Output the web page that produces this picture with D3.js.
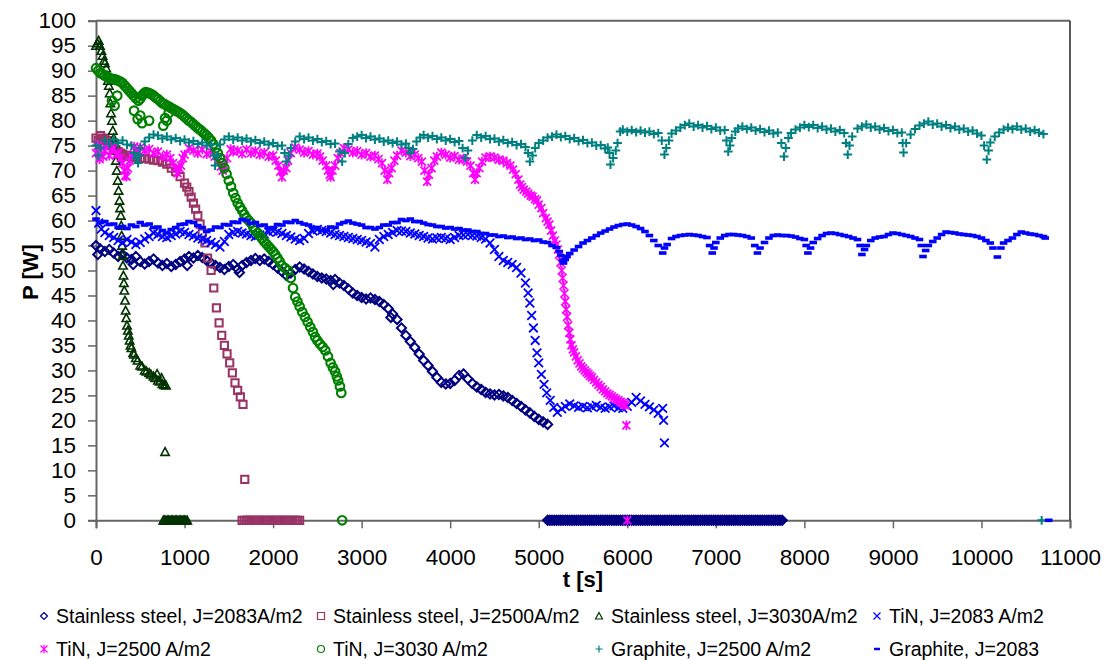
<!DOCTYPE html>
<html><head><meta charset="utf-8">
<script src="https://cdn.jsdelivr.net/npm/d3@7"></script>
<style>body{margin:0;background:#fff;} text{font-family:Arial,"Liberation Sans",sans-serif;fill:#000;}</style>
</head><body><svg id="c" width="1112" height="660"></svg>
<script>
// ---------- tick labels ----------
const xTicks = [0,1000,2000,3000,4000,5000,6000,7000,8000,9000,10000,11000];
const yTicks = [0,5,10,15,20,25,30,35,40,45,50,55,60,65,70,75,80,85,90,95,100];
const seriesNames = ["Stainless steel, J=2083A/m2","Stainless steel, J=2500A/m2","Stainless steel, J=3030A/m2","TiN, J=2083 A/m2","TiN, J=2500 A/m2","TiN, J=3030 A/m2","Graphite, J=2500 A/m2","Graphite, J=2083"];

// ---------- data: [t (s), P (W)] ----------
const ssJ2083 = [[0,55],[50,54.3],[100,53.8],[150,54.2],[200,53.5],[250,52.8],[300,53.2],[350,52.5],[400,52.2],[450,52.8],[500,51.8],[550,51.3],[600,51.8],[650,52.3],[700,51.5],[750,51],[800,51.4],[850,50.8],[900,51.2],[950,51.8],[1000,52.3],[1050,52.8],[1100,52.5],[1150,53],[1200,52.6],[1250,52],[1300,51.5],[1350,51],[1400,50.6],[1450,50.2],[1500,50.8],[1550,51.2],[1600,50.3],[1650,51],[1700,51.6],[1750,52],[1800,52.4],[1850,52],[1900,52.3],[1950,51.8],[2000,51.2],[2050,50.5],[2100,49.8],[2150,49],[2200,49.5],[2250,50.2],[2300,50.7],[2350,50.3],[2400,49.8],[2450,49.3],[2500,48.8],[2550,48.5],[2600,48.3],[2650,48],[2700,48.2],[2750,47.5],[2800,47],[2850,46.3],[2900,45.5],[2950,45],[3000,44.6],[3050,44.3],[3100,44.5],[3150,44.2],[3200,43.8],[3250,43.2],[3300,42.4],[3350,41.3],[3400,40.2],[3450,38.5],[3500,37],[3550,35.8],[3600,34.6],[3650,33.3],[3700,32],[3750,31],[3800,29.8],[3850,28.6],[3900,27.6],[3950,27.3],[4000,27.4],[4050,28],[4100,29],[4150,29.3],[4200,28.3],[4250,27.4],[4300,26.7],[4350,26.2],[4400,25.6],[4450,25.3],[4500,25.1],[4550,25.2],[4600,24.9],[4650,24.6],[4700,24],[4750,23.4],[4800,22.8],[4850,22.1],[4900,21.5],[4950,20.8],[5000,20.2],[5050,19.7],[5100,19.2],[20,53.2],[420,51.2],[1030,51],[1620,49.6],[2680,47.2],[3330,40.6]];
const ssJ2083ZeroTimes = [5100,5125,5150,5175,5200,5225,5250,5275,5300,5325,5350,5375,5400,5425,5450,5475,5500,5525,5550,5575,5600,5625,5650,5675,5700,5725,5750,5775,5800,5825,5850,5875,5900,5925,5950,5975,6000,6025,6050,6075,6100,6125,6150,6175,6200,6225,6250,6275,6300,6325,6350,6375,6400,6425,6450,6475,6500,6525,6550,6575,6600,6625,6650,6675,6700,6725,6750,6775,6800,6825,6850,6875,6900,6925,6950,6975,7000,7025,7050,7075,7100,7125,7150,7175,7200,7225,7250,7275,7300,7325,7350,7375,7400,7425,7450,7475,7500,7525,7550,7575,7600,7625,7650,7675,7700,7725,7750];

const ssJ2500 = [[0,76.5],[25,76],[50,77],[75,76.2],[100,76.5],[125,76],[150,75.5],[175,75],[200,74.5],[225,74.2],[250,73.8],[275,73.5],[300,73.3],[325,73.1],[350,73],[375,72.9],[400,72.8],[450,72.6],[500,72.5],[550,72.4],[600,72.3],[650,72.1],[700,72],[750,71.7],[800,71.3],[850,70.5],[900,69.8],[950,68.8],[1000,67.5],[1025,66.7],[1050,65.8],[1075,64.7],[1100,63.5],[1125,62.3],[1150,61],[1175,59.3],[1200,57.5],[1230,55.5],[1260,52.5],[1300,50],[1330,46.5],[1360,42.5],[1390,39.5],[1420,37],[1450,35],[1480,33.3],[1510,31.5],[1540,29.5],[1570,27.5],[1600,26],[1630,24.7],[1660,23.2],[1680,8.2]];
const ssJ2500ZeroTimes = [1650,1675,1700,1725,1750,1775,1800,1825,1850,1875,1900,1925,1950,1975,2000,2025,2050,2075,2100,2125,2150,2175,2200,2225,2250,2275,2300];

const ssJ3030 = [[0,95],[15,95.5],[30,96],[45,95],[60,94],[75,93],[90,92],[100,91.5],[115,90.5],[125,89],[135,88],[145,87],[155,85.5],[162,83.5],[170,81.5],[180,80],[190,78],[200,76.5],[210,75.5],[218,74],[225,72],[235,70],[245,68],[255,66],[265,64],[272,62.5],[280,61],[285,59],[290,57],[295,55],[300,53],[305,51],[310,49],[315,47.5],[320,46],[328,44],[335,42],[342,40.5],[350,39],[360,38],[370,37],[380,36],[390,35],[400,34.5],[420,33.5],[430,33.2],[450,32.5],[470,32],[500,31],[520,30.8],[550,30],[570,29.8],[600,29.5],[620,29.2],[650,28.8],[670,28.5],[690,29.3],[700,28],[720,27.8],[740,28.5],[750,27.3],[770,27.1],[790,27],[780,13.7]];
const ssJ3030ZeroTimes = [760,775,790,805,820,835,850,865,880,895,910,925,940,955,970,985,1000,1015,1030];

const tinJ2083 = [[0,62],[30,59.5],[60,58.3],[100,57.6],[150,57],[200,56.6],[250,56],[300,55.6],[350,56.2],[400,55.7],[450,55.2],[500,55.6],[550,56.3],[600,56.8],[650,57.5],[700,57.2],[750,56.8],[800,56.6],[850,57],[900,57.3],[950,57.8],[1000,57.6],[1050,57.2],[1100,56.9],[1150,56.5],[1200,56.3],[1250,56],[1300,55.6],[1350,55.2],[1400,54.7],[1450,55.8],[1500,57.2],[1550,57.6],[1600,57.8],[1650,57.5],[1700,57.3],[1750,57],[1800,56.8],[1850,57.1],[1900,57.3],[1950,57.7],[2000,57.9],[2050,57.7],[2100,57.4],[2150,57],[2200,56.7],[2250,56.3],[2300,56],[2350,56.4],[2400,57.4],[2450,57.9],[2500,58.2],[2550,58],[2600,57.8],[2650,57.5],[2700,57.2],[2750,57],[2800,56.8],[2850,56.6],[2900,56.4],[2950,56.2],[3000,56],[3050,55.7],[3100,55.4],[3150,54.7],[3200,56.2],[3250,56.8],[3300,57.2],[3350,57.6],[3400,58],[3450,57.9],[3500,57.8],[3550,57.5],[3600,57.3],[3650,57],[3700,56.8],[3750,56.5],[3800,56.3],[3850,56.5],[3900,56.6],[3950,56.4],[4000,56.2],[4050,56.6],[4100,57],[4150,57.1],[4200,57.2],[4250,57],[4300,56.9],[4350,56.6],[4400,56.3],[4450,55.5],[4500,54.2],[4550,52.8],[4600,52],[4650,51.6],[4700,51.2],[4750,50.6],[4800,49.5],[4850,47.5],[4880,45.5],[4900,43.5],[4920,41],[4940,38.5],[4960,36],[4980,33.5],[5000,31.5],[5030,29.2],[5060,27.2],[5090,25.5],[5130,24],[5170,22.6],[5210,21.6],[5260,22.3],[5300,22.8],[5350,23.3],[5400,22.9],[5450,22.6],[5500,22.8],[5550,22.5],[5600,22.7],[5650,23],[5700,22.6],[5750,22.4],[5800,22.7],[5850,22.9],[5900,22.5],[5950,22.4],[6000,22.8],[6050,23.6],[6100,24.6],[6150,23.9],[6200,23.2],[6250,22.7],[6300,22.1],[6350,21.4],[6400,22.4],[6410,20],[6420,15.5]];

const tinJ2500 = [[0,73.5],[20,75],[40,72.3],[60,74.5],[80,72.8],[100,74],[130,75],[150,73],[180,74],[200,74.5],[230,73.2],[250,73.5],[280,72.5],[300,71.5],[320,70],[330,69],[345,68.8],[360,70.5],[380,72],[400,73],[430,74.8],[450,74.2],[480,73.6],[500,74.6],[550,74],[600,74.3],[650,73.5],[700,73.8],[750,72.8],[800,73.2],[840,72.5],[870,71.5],[900,70.5],[920,69.5],[940,70.5],[960,71],[980,72.5],[1000,73.2],[1050,74.5],[1100,74],[1150,73.5],[1200,74.2],[1250,73.3],[1300,73.8],[1340,72.8],[1380,71.8],[1410,70.8],[1430,70],[1450,71],[1480,72.5],[1520,74.3],[1550,73.8],[1600,74],[1650,73.4],[1700,74.2],[1750,73.5],[1800,73.9],[1850,73.2],[1900,73.6],[1950,72.8],[2000,73],[2030,72],[2060,71],[2080,69.8],[2100,68.7],[2120,70],[2150,70.5],[2170,72],[2200,73.5],[2250,74.6],[2300,74.2],[2350,73.6],[2400,73.9],[2450,73.2],[2500,73.4],[2530,72.8],[2560,72],[2600,71],[2620,70],[2640,69.2],[2650,68.7],[2670,70],[2700,71],[2730,72.5],[2760,73.5],[2800,74.5],[2850,74.2],[2900,73.6],[2950,73.9],[3000,73.2],[3050,73.5],[3100,72.8],[3150,73],[3190,72.3],[3230,71.5],[3260,70],[3290,68.2],[3310,69.5],[3340,70.5],[3370,72],[3400,73],[3450,74],[3500,73.6],[3550,72.9],[3600,73.2],[3640,72.5],[3680,71.8],[3710,70],[3740,67.8],[3760,69.2],[3790,70.5],[3820,72],[3850,72.8],[3900,73.6],[3950,73.2],[4000,72.6],[4050,72.9],[4100,72.2],[4150,72.4],[4190,71.8],[4230,71],[4260,69.5],[4280,68.2],[4300,69.5],[4330,70.5],[4360,71.8],[4400,72.6],[4450,72.8],[4500,72.6],[4550,72.2],[4600,72],[4640,71.5],[4680,71],[4710,70.2],[4740,69.3],[4770,68.2],[4790,67.2],[4810,66.7],[4830,66.2],[4860,65.8],[4880,65.4],[4910,65],[4930,64.8],[4960,64.3],[4980,64],[5000,63.2],[5030,62.5],[5050,61.5],[5080,60.5],[5100,59.8],[5120,59.2],[5140,58],[5160,57],[5180,56],[5200,55.2],[5215,54.2],[5230,53.2],[5245,51.6],[5260,50],[5270,48.5],[5280,47],[5290,45.4],[5300,43.8],[5310,42.2],[5320,40.7],[5332,39],[5345,37.5],[5357,36.2],[5370,35],[5385,34.2],[5400,33.6],[5420,32.8],[5440,32],[5460,31.4],[5480,30.8],[5500,30.4],[5520,30],[5540,29.6],[5560,29.3],[5580,28.9],[5600,28.6],[5625,28.1],[5650,27.6],[5675,27.1],[5700,26.7],[5725,26.2],[5750,25.8],[5775,25.4],[5800,25.1],[5825,24.8],[5850,24.5],[5875,24.2],[5900,24],[5925,23.7],[5950,23.5],[5965,23.2],[5980,23],[5990,19],[6000,0]];

const tinJ3030 = [[0,90.5],[25,90],[50,89.5],[75,89.3],[100,89],[125,88.8],[150,88.5],[175,88.4],[200,88.3],[225,88.2],[250,88],[275,87.8],[300,87.5],[325,87],[350,86.5],[375,86],[400,85.5],[425,85],[450,84.5],[480,84],[500,84.4],[520,85],[540,85.4],[560,85.7],[580,85.6],[600,85.5],[625,85.3],[650,85],[675,84.6],[700,84.3],[725,83.9],[750,83.5],[775,83.3],[800,83],[825,82.8],[850,82.5],[875,82.3],[900,82],[925,81.8],[950,81.5],[975,81.2],[1000,80.8],[1025,80.4],[1050,80],[1075,79.7],[1100,79.3],[1125,78.9],[1150,78.5],[1175,78.2],[1200,77.8],[1225,77.4],[1250,77],[1275,76.5],[1300,76],[1325,75.3],[1350,74.5],[1375,73.5],[1400,72.5],[1425,71.5],[1450,70.5],[1475,69.3],[1500,68],[1525,66.8],[1550,65.5],[1575,64.5],[1600,63.5],[1625,62.7],[1650,62],[1675,61.2],[1700,60.5],[1725,60],[1750,59.5],[1775,58.7],[1800,58],[1825,57.5],[1850,57],[1875,56.4],[1900,55.8],[1925,55.3],[1950,54.8],[1975,54.3],[2000,53.8],[2025,53.2],[2050,52.5],[2075,51.8],[2100,51],[2135,50.5],[2170,50],[2200,48.5],[2225,46.5],[2250,44.7],[2275,43.8],[2300,42.8],[2330,41.7],[2360,40.7],[2390,39.7],[2420,38.7],[2450,37.7],[2475,36.7],[2500,36],[2530,35.3],[2560,34.7],[2590,34],[2620,32.8],[2650,31.5],[2675,30.6],[2700,29.8],[2720,28.8],[2735,28],[2755,26.8],[2770,25.5],[2780,0],[470,80.3],[600,80],[760,79],[430,82],[500,81],[520,79.5],[780,80.5],[800,80],[820,81.5],[180,84],[210,83],[240,85]];

const grJ2500 = [[0,75],[25,73],[50,74.5],[100,76],[150,75.3],[200,76.2],[250,75.5],[300,76],[350,75.2],[400,75],[430,73.5],[450,72.5],[475,71.5],[490,73],[500,74.5],[550,75.8],[600,76.6],[650,77.2],[700,77],[750,76.4],[800,76.8],[850,76.2],[900,76.5],[950,75.9],[1000,76.2],[1050,75.6],[1100,75.9],[1150,75.3],[1200,75.6],[1250,75],[1300,75.2],[1330,73],[1345,71],[1370,73],[1400,75.2],[1450,76.2],[1500,76.8],[1550,76.2],[1600,76.6],[1650,76],[1700,76.4],[1750,75.8],[1800,76.1],[1850,75.5],[1900,75.8],[1950,75.2],[2000,75.5],[2050,74.9],[2100,75],[2130,73.5],[2150,71.8],[2180,73],[2200,74.5],[2250,75.8],[2300,76.8],[2350,76.3],[2400,76.6],[2450,76],[2500,76.3],[2550,75.7],[2600,75.9],[2650,75.3],[2700,75.4],[2750,73.8],[2780,71.8],[2810,73.5],[2850,75.3],[2900,76.5],[2950,76.8],[3000,77.1],[3050,76.5],[3100,76.8],[3150,76.2],[3200,76.4],[3250,75.8],[3300,76],[3350,75.5],[3400,75.8],[3450,75.2],[3500,75.4],[3530,74.5],[3550,73.5],[3580,74.3],[3620,75.8],[3660,76.6],[3700,77.1],[3750,76.6],[3800,76.9],[3850,76.3],[3900,76.6],[3950,76],[4000,76.3],[4050,75.7],[4100,75.9],[4140,74.5],[4170,72.5],[4200,74],[4250,76],[4300,77.1],[4350,76.6],[4400,76.9],[4450,76.3],[4500,76.4],[4550,75.8],[4600,76.1],[4650,75.5],[4700,75.7],[4750,75.1],[4800,75.3],[4850,74.7],[4880,73.5],[4900,71.8],[4930,73],[4960,74.5],[5000,75.5],[5050,76],[5100,76.6],[5150,76.8],[5200,77.2],[5250,76.7],[5300,76.9],[5350,76.3],[5400,76.5],[5450,75.9],[5500,76.1],[5550,75.5],[5600,75.6],[5650,75],[5700,75.1],[5750,74.4],[5780,74.6],[5800,73.5],[5810,71.2],[5840,72.5],[5870,74],[5890,75.5],[5920,77.8],[5950,78.2],[6000,77.8],[6050,78.1],[6100,77.7],[6150,78],[6200,77.6],[6250,77.8],[6300,77.3],[6350,77.5],[6390,76],[6420,73.2],[6440,74.5],[6470,76],[6500,77.4],[6550,78],[6600,78.6],[6650,79.1],[6700,79.4],[6750,78.8],[6800,79.1],[6850,78.6],[6900,78.9],[6950,78.3],[7000,78.6],[7050,78],[7100,78.1],[7120,76],[7140,73.8],[7160,75],[7180,76.5],[7220,77.8],[7250,78.4],[7300,78.8],[7350,78.3],[7400,78.6],[7450,78],[7500,78.3],[7550,77.7],[7600,78],[7650,77.4],[7700,77.6],[7740,75.5],[7770,72.8],[7790,74.5],[7820,76.5],[7850,77.5],[7900,78.2],[7950,78.6],[8000,79.1],[8050,78.7],[8100,79.1],[8150,78.5],[8200,78.8],[8250,78.2],[8300,78.4],[8350,77.8],[8400,78.1],[8450,77.5],[8470,75.5],[8490,73.2],[8510,75],[8540,76.8],[8600,78.4],[8650,78.8],[8700,79.2],[8750,78.6],[8800,78.8],[8850,78.2],[8900,78.5],[8950,77.9],[9000,78.1],[9050,77.5],[9100,77.6],[9110,75.5],[9120,73.6],[9150,75.5],[9200,77.2],[9250,78.3],[9300,79],[9350,79.4],[9400,79.8],[9450,79.2],[9500,79.4],[9550,78.8],[9600,79.1],[9650,78.5],[9700,78.8],[9750,78.2],[9800,78.4],[9850,77.8],[9900,78],[9950,77.4],[10000,77],[10030,75],[10060,72.2],[10080,74],[10100,75.6],[10150,76.8],[10200,77.6],[10250,78.2],[10300,78.6],[10350,78.3],[10400,78.8],[10450,78.2],[10500,78.4],[10550,77.8],[10600,78.1],[10650,77.6],[10700,77.3],[10680,0]];

const grJ2083 = [[0,60.3],[50,59.6],[100,59.8],[150,59.2],[200,59.3],[250,58.6],[300,58.8],[350,58.4],[400,59.1],[450,58.8],[500,59.6],[550,59.1],[600,59.3],[650,58.6],[700,58.7],[750,58],[800,57.5],[850,58.2],[900,58.6],[950,59.2],[1000,59.3],[1050,59.8],[1100,59.6],[1150,59],[1200,58.6],[1250,57.8],[1300,58.1],[1350,58.7],[1400,58.6],[1450,59.2],[1500,59.1],[1550,59.7],[1600,59.6],[1650,60.2],[1700,60],[1750,59.4],[1800,59.6],[1850,59],[1900,59.1],[1950,58.5],[2000,58.6],[2050,59.2],[2100,59.1],[2150,59.7],[2200,59.6],[2250,60],[2300,59.6],[2350,59.3],[2400,59.1],[2450,58.6],[2500,58.6],[2550,58],[2600,58.1],[2650,58.7],[2700,58.6],[2750,59.3],[2800,59.6],[2850,59.9],[2900,59.5],[2950,59.3],[3000,59.1],[3050,58.6],[3100,58.6],[3150,58.3],[3200,58.6],[3250,59.1],[3300,59.1],[3350,59.6],[3400,59.6],[3450,60.2],[3500,60],[3550,60.3],[3600,59.8],[3650,59.8],[3700,59.5],[3750,59.2],[3800,59.1],[3850,58.8],[3900,58.8],[3950,58.5],[4000,58.6],[4050,58.3],[4100,58.4],[4150,58.1],[4200,58.1],[4250,57.8],[4300,57.8],[4350,57.4],[4400,57.4],[4450,57.1],[4500,57.1],[4550,56.8],[4600,56.9],[4650,56.6],[4700,56.7],[4750,56.4],[4800,56.5],[4850,56.2],[4900,56.3],[4950,56],[5000,56.1],[5050,55.7],[5100,55.6],[5150,55],[5200,54.6],[5230,53.8],[5250,53],[5270,52],[5280,51.5],[5300,52.2],[5320,52.8],[5350,53.4],[5400,54.1],[5450,54.8],[5500,55.5],[5550,56],[5600,56.5],[5650,57],[5700,57.5],[5750,57.9],[5800,58.3],[5850,58.7],[5900,59],[5950,59.2],[6000,59.3],[6050,59.1],[6100,58.8],[6150,58.4],[6200,57.8],[6250,57],[6300,56],[6350,55],[6400,53.5],[6420,54.5],[6450,55.2],[6500,56.4],[6550,56.8],[6600,57],[6650,57.1],[6700,57.2],[6750,57.1],[6800,57],[6850,56.8],[6900,56.6],[6930,55],[6960,53.5],[6980,54.5],[7000,55.6],[7050,56.5],[7100,57],[7150,57.2],[7200,57.2],[7250,57.1],[7300,57],[7350,56.8],[7400,56.5],[7440,55],[7470,53.5],[7500,54.5],[7550,55.6],[7600,56.5],[7650,57],[7700,57.1],[7750,57],[7800,57],[7850,56.9],[7900,56.7],[7950,56.4],[8000,56.2],[8020,55],[8040,53.5],[8070,54.5],[8100,55.6],[8150,56.4],[8200,57],[8250,57.4],[8300,57.5],[8350,57.4],[8400,57.2],[8450,57],[8500,56.8],[8550,56.5],[8600,56.2],[8630,55],[8650,53.2],[8680,54.2],[8700,55],[8750,56],[8800,56.5],[8850,56.7],[8900,56.8],[8950,57.2],[9000,57.5],[9050,57.4],[9100,57.2],[9150,57],[9200,56.8],[9250,56.5],[9300,56.2],[9320,55],[9340,52.8],[9370,54],[9400,55],[9450,55.8],[9500,56.5],[9550,57.2],[9600,57.7],[9650,57.6],[9700,57.5],[9750,57.3],[9800,57.2],[9850,57.1],[9900,57],[9950,56.8],[10000,56.5],[10050,56],[10100,55.5],[10130,54.5],[10180,52.7],[10220,54.5],[10250,55.5],[10300,56],[10350,56.5],[10400,57.2],[10450,57.7],[10500,57.5],[10550,57.3],[10600,57.2],[10650,57],[10700,56.8],[10720,56.5],[10760,0]];

// ---------- rendering ----------
const svg = d3.select("#c");
const x = d3.scaleLinear().domain([0, 11000]).range([96, 1070]);
const y = d3.scaleLinear().domain([0, 100]).range([520.3, 20.7]);

const shapes = {
  diamond: r => `M0,${-r}L${r},0L0,${r}L${-r},0Z`,
  square: r => `M${-r},${-r}H${r}V${r}H${-r}Z`,
  triangle: r => `M0,${-r}L${r},${r*0.85}L${-r},${r*0.85}Z`,
  x: r => `M${-r},${-r}L${r},${r}M${-r},${r}L${r},${-r}`,
  asterisk: r => `M${-r},${-r}L${r},${r}M${-r},${r}L${r},${-r}M0,${-r*1.2}V${r*1.2}`,
  circle: r => `M${r},0A${r},${r} 0 1,1 ${-r},0A${r},${r} 0 1,1 ${r},0Z`,
  plus: r => `M${-r},0H${r}M0,${-r}V${r}`,
  dash: r => `M${-r},0H${r}`
};

const series = [
  {data: ssJ2083.concat(ssJ2083ZeroTimes.map(t => [t, 0])), color: "#000080", shape: "diamond", r: 4.6, sw: 2},
  {data: ssJ2500.concat(ssJ2500ZeroTimes.map(t => [t, 0])), color: "#993366", shape: "square", r: 3.6, sw: 2},
  {data: ssJ3030.concat(ssJ3030ZeroTimes.map(t => [t, 0])), color: "#003300", shape: "triangle", r: 4.2, sw: 1.6},
  {data: tinJ2083, color: "#0000FF", shape: "x", r: 4.3, sw: 1.8},
  {data: tinJ2500, color: "#FF00FF", shape: "asterisk", r: 4, sw: 1.7},
  {data: tinJ3030, color: "#008000", shape: "circle", r: 4.3, sw: 2.1},
  {data: grJ2500, color: "#008080", shape: "plus", r: 4.4, sw: 2},
  {data: grJ2083, color: "#0000FF", shape: "dash", r: 3.8, sw: 3.6}
];

// axes
const yAxis = d3.axisLeft(y).tickValues(yTicks).tickSize(8).tickPadding(12).tickFormat(d3.format("d"));
const gy = svg.append("g").attr("transform", "translate(96,0)").call(yAxis);
gy.selectAll("text").style("font-size", "22.5px");
const xAxis = d3.axisBottom(x).tickValues(xTicks).tickSize(8).tickPadding(21).tickFormat(d3.format("d"));
const gx = svg.append("g").attr("transform", "translate(0,520.3)").call(xAxis);
gx.selectAll("text").style("font-size", "22.5px");
[gx, gy].forEach(g => { g.select(".domain").attr("stroke", "#666").attr("stroke-width", 2); g.selectAll(".tick line").attr("stroke", "#666").attr("stroke-width", 1.5); });

// frame top & right
svg.append("line").attr("x1", x(0)).attr("x2", x(11000)).attr("y1", y(100)).attr("y2", y(100)).attr("stroke", "#666").attr("stroke-width", 2);
svg.append("line").attr("x1", x(11000)).attr("x2", x(11000)).attr("y1", y(100)).attr("y2", y(0)).attr("stroke", "#222").attr("stroke-width", 1.5);

// markers
series.forEach(s => {
  const path = shapes[s.shape](s.r);
  svg.append("g").selectAll("path").data(s.data).join("path")
    .attr("d", path)
    .attr("transform", d => `translate(${x(d[0])},${y(d[1])})`)
    .attr("fill", "none").attr("stroke", s.color).attr("stroke-width", s.sw);
});

// axis titles
svg.append("text").attr("transform", "translate(38,272) rotate(-90)").attr("text-anchor", "middle")
  .style("font-size", "22px").style("font-weight", "bold").text("P [W]");
svg.append("text").attr("x", 583).attr("y", 587).attr("text-anchor", "middle")
  .style("font-size", "22px").style("font-weight", "bold").text("t [s]");

// legend
const legX = [44, 321, 599, 877];
const legY = [616, 649];
series.forEach((s, i) => {
  const cx = legX[i % 4], cy = legY[Math.floor(i / 4)];
  svg.append("path").attr("d", shapes[s.shape](s.shape === "dash" ? 3 : 3.5))
    .attr("transform", `translate(${cx},${cy})`)
    .attr("fill", "none").attr("stroke", s.color).attr("stroke-width", s.shape === "dash" ? 2.5 : 1.2);
  svg.append("text").attr("x", cx + 12).attr("y", cy + 7)
    .style("font-size", "19.5px").text(seriesNames[i]);
});
</script></body></html>
